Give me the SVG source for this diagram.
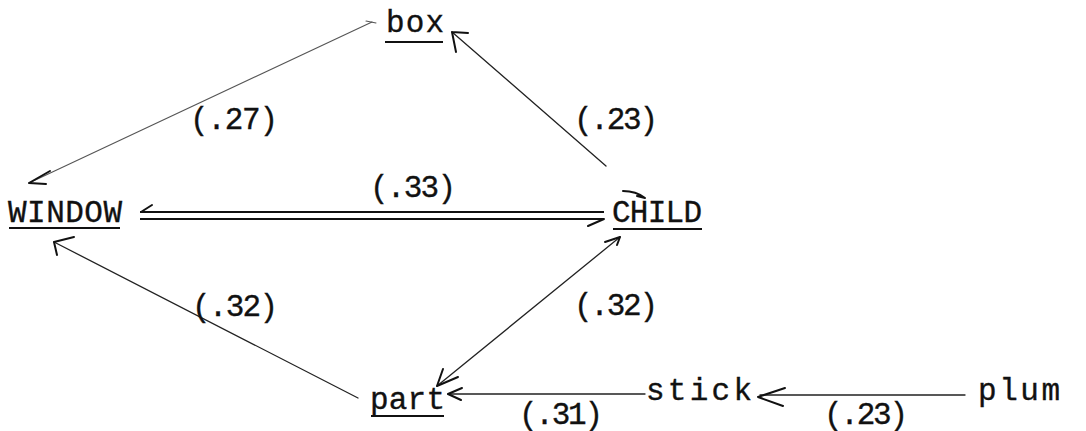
<svg xmlns="http://www.w3.org/2000/svg" width="1086" height="431" viewBox="0 0 1086 431">
  <style>
    .t { font-family: "Liberation Mono", "DejaVu Sans Mono", monospace; font-size: 31px; fill: #111; stroke: #111; stroke-width: 0.35; }
    .ul { stroke: #111; stroke-width: 2; }
    .ln { fill: none; stroke: #222; stroke-width: 1.3; stroke-linecap: round; }
    .lt { fill: none; stroke: #555; stroke-width: 1.1; stroke-linecap: round; }
    .dbl { fill: none; stroke: #111; stroke-width: 2.2; }
    .hd { fill: none; stroke: #111; stroke-width: 2; stroke-linecap: round; }
  </style>
  <rect width="1086" height="431" fill="#fff"/>

  <g id="connectors">
    <!-- box -> WINDOW -->
    <path class="lt" d="M372 22 L29 183"/>
    <path class="hd" d="M29 183 L50 171 M29 183 L46 184"/>
    <path class="lt" d="M366 21 L376 23"/>
    <!-- CHILD -> box -->
    <path class="ln" d="M606 166 L452 32"/>
    <path class="hd" d="M452 32 L468 33 M452 32 L456 52"/>
    <!-- WINDOW = CHILD double line -->
    <path class="dbl" d="M140 212 L604 212"/>
    <path class="dbl" d="M140 219 L604 219"/>
    <path class="hd" d="M141 212 L152 205"/>
    <path class="hd" d="M604 219 L588 226"/>
    <!-- part -> WINDOW -->
    <path class="ln" d="M358 398 L54 242"/>
    <path class="hd" d="M54 242 L74 237 M54 242 L57 255"/>
    <!-- part <-> CHILD -->
    <path class="ln" d="M437 386 L620 237"/>
    <path class="hd" d="M437 386 L458 377 M437 386 L443 369"/>
    <path class="hd" d="M620 237 L605 242 M620 237 L617 245"/>
    <!-- stick -> part -->
    <path class="ln" d="M448 394 L645 394"/>
    <path class="hd" d="M448 394 L462 388 M448 394 L461 400"/>
    <!-- plum -> stick -->
    <path class="ln" d="M760 395 L965 395"/>
    <path class="hd" d="M758 397 L785 388 M758 397 L783 406"/>
  </g>

  <g id="box">
    <text class="t" x="386" y="32" textLength="58">box</text>
    <line class="ul" x1="385" y1="42" x2="443" y2="42"/>
  </g>
  <g id="WINDOW">
    <text class="t" x="8" y="222" textLength="114">WINDOW</text>
    <line class="ul" x1="9" y1="228" x2="120" y2="228"/>
  </g>
  <g id="CHILD">
    <text class="t" x="612" y="222" textLength="90">CHILD</text>
    <line class="ul" x1="613" y1="229" x2="702" y2="229"/>
    <path class="hd" d="M623 191 Q636 191 645 198 M645 198 L637 196"/>
  </g>
  <g id="part">
    <text class="t" x="370" y="409" textLength="75">part</text>
    <line class="ul" x1="371" y1="416" x2="444" y2="416"/>
  </g>
  <g id="stick">
    <text class="t" x="646" y="400" textLength="106">stick</text>
  </g>
  <g id="plum">
    <text class="t" x="978" y="400" textLength="82">plum</text>
  </g>

  <g id="labels">
    <text class="t" x="190" y="129" textLength="88">(.27)</text>
    <text class="t" x="574" y="129" textLength="84">(.23)</text>
    <text class="t" x="370" y="197" textLength="86">(.33)</text>
    <text class="t" x="192" y="316" textLength="86">(.32)</text>
    <text class="t" x="574" y="315" textLength="84">(.32)</text>
    <text class="t" x="519" y="424" textLength="84">(.31)</text>
    <text class="t" x="824" y="424" textLength="84">(.23)</text>
  </g>
</svg>
